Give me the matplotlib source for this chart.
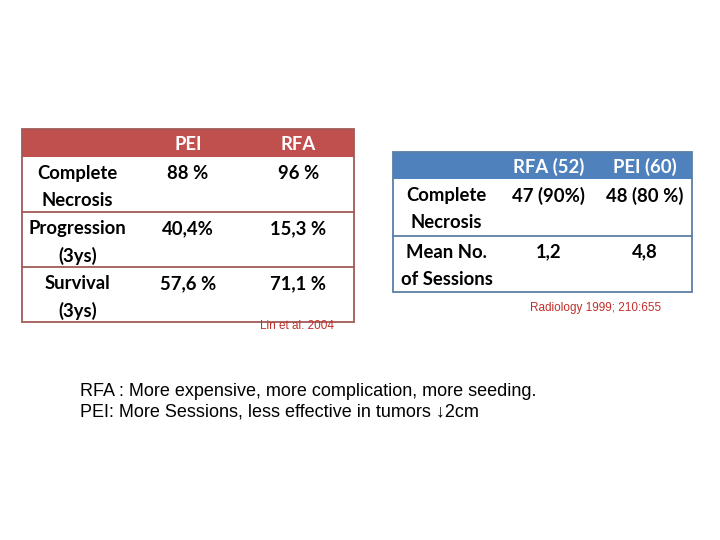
import matplotlib.pyplot as plt
from matplotlib.patches import Rectangle

# table 1 (Lin et al. 2004)
t1_header = ["", "PEI", "RFA"]
t1_rows = [["Complete\nNecrosis", "88 %", "96 %"],
           ["Progression\n(3ys)", "40,4%", "15,3 %"],
           ["Survival\n(3ys)", "57,6 %", "71,1 %"]]
t1_source = "Lin et al. 2004"

# table 2 (Radiology 1999)
t2_header = ["", "RFA (52)", "PEI (60)"]
t2_rows = [["Complete\nNecrosis", "47 (90%)", "48 (80 %)"],
           ["Mean No.\nof Sessions", "1,2", "4,8"]]
t2_source = "Radiology 1999; 210:655"

notes = ["RFA : More expensive, more complication, more seeding.",
         "PEI: More Sessions, less effective in tumors \u21932cm"]

TABLE_FONT = ["Lato", "DejaVu Sans"]
FS = 13.3
LINE_H = 27.5


def draw_table(ax, header, rows, x0, cols_w, y_top, head_h, row_h, fill, edge):
    width = sum(cols_w)
    total_h = head_h + row_h * len(rows)
    ax.add_patch(Rectangle((x0, y_top), width, head_h, facecolor=fill, edgecolor='none'))
    ax.add_patch(Rectangle((x0, y_top), width, total_h, facecolor='none',
                           edgecolor=edge, lw=1.3))
    centers = []
    x = x0
    for w in cols_w:
        centers.append(x + w / 2)
        x += w
    for c, txt in zip(centers, header):
        ax.text(c, y_top + head_h / 2 + 1.5, txt, color='white', fontsize=FS,
                fontweight='bold', family=TABLE_FONT, ha='center', va='center')
    y = y_top + head_h
    for i, row in enumerate(rows):
        if i > 0:
            ax.plot([x0, x0 + width], [y, y], color=edge, lw=1.3)
        for c, txt in zip(centers, row):
            for k, line in enumerate(txt.split('\n')):
                ax.text(c, y + 16.5 + k * LINE_H, line, color='black', fontsize=FS,
                        fontweight='bold', family=TABLE_FONT, ha='center', va='center')
        y += row_h


fig = plt.figure(figsize=(7.2, 5.4), dpi=100)
ax = fig.add_axes([0, 0, 1, 1])
ax.set_xlim(0, 720)
ax.set_ylim(540, 0)
ax.axis('off')

draw_table(ax, t1_header, t1_rows, 22, [111, 110, 111], 129, 28, 55,
           '#C0504D', '#A05A58')
ax.text(297, 326, t1_source, color='#C0302B', fontsize=8.5, family='Liberation Sans',
        ha='center', va='center')

draw_table(ax, t2_header, t2_rows, 393, [107, 97, 95], 152, 27, 56.5,
           '#4F81BD', '#5B7FA6')
ax.text(596, 308, t2_source, color='#C0302B', fontsize=8.5, family='Liberation Sans',
        ha='center', va='center')

for i, line in enumerate(notes):
    ax.text(80, 391 + i * 21, line, color='black', fontsize=13,
            family=['Liberation Sans', 'DejaVu Sans'], ha='left', va='center')

fig.savefig('out.png', dpi=100)
